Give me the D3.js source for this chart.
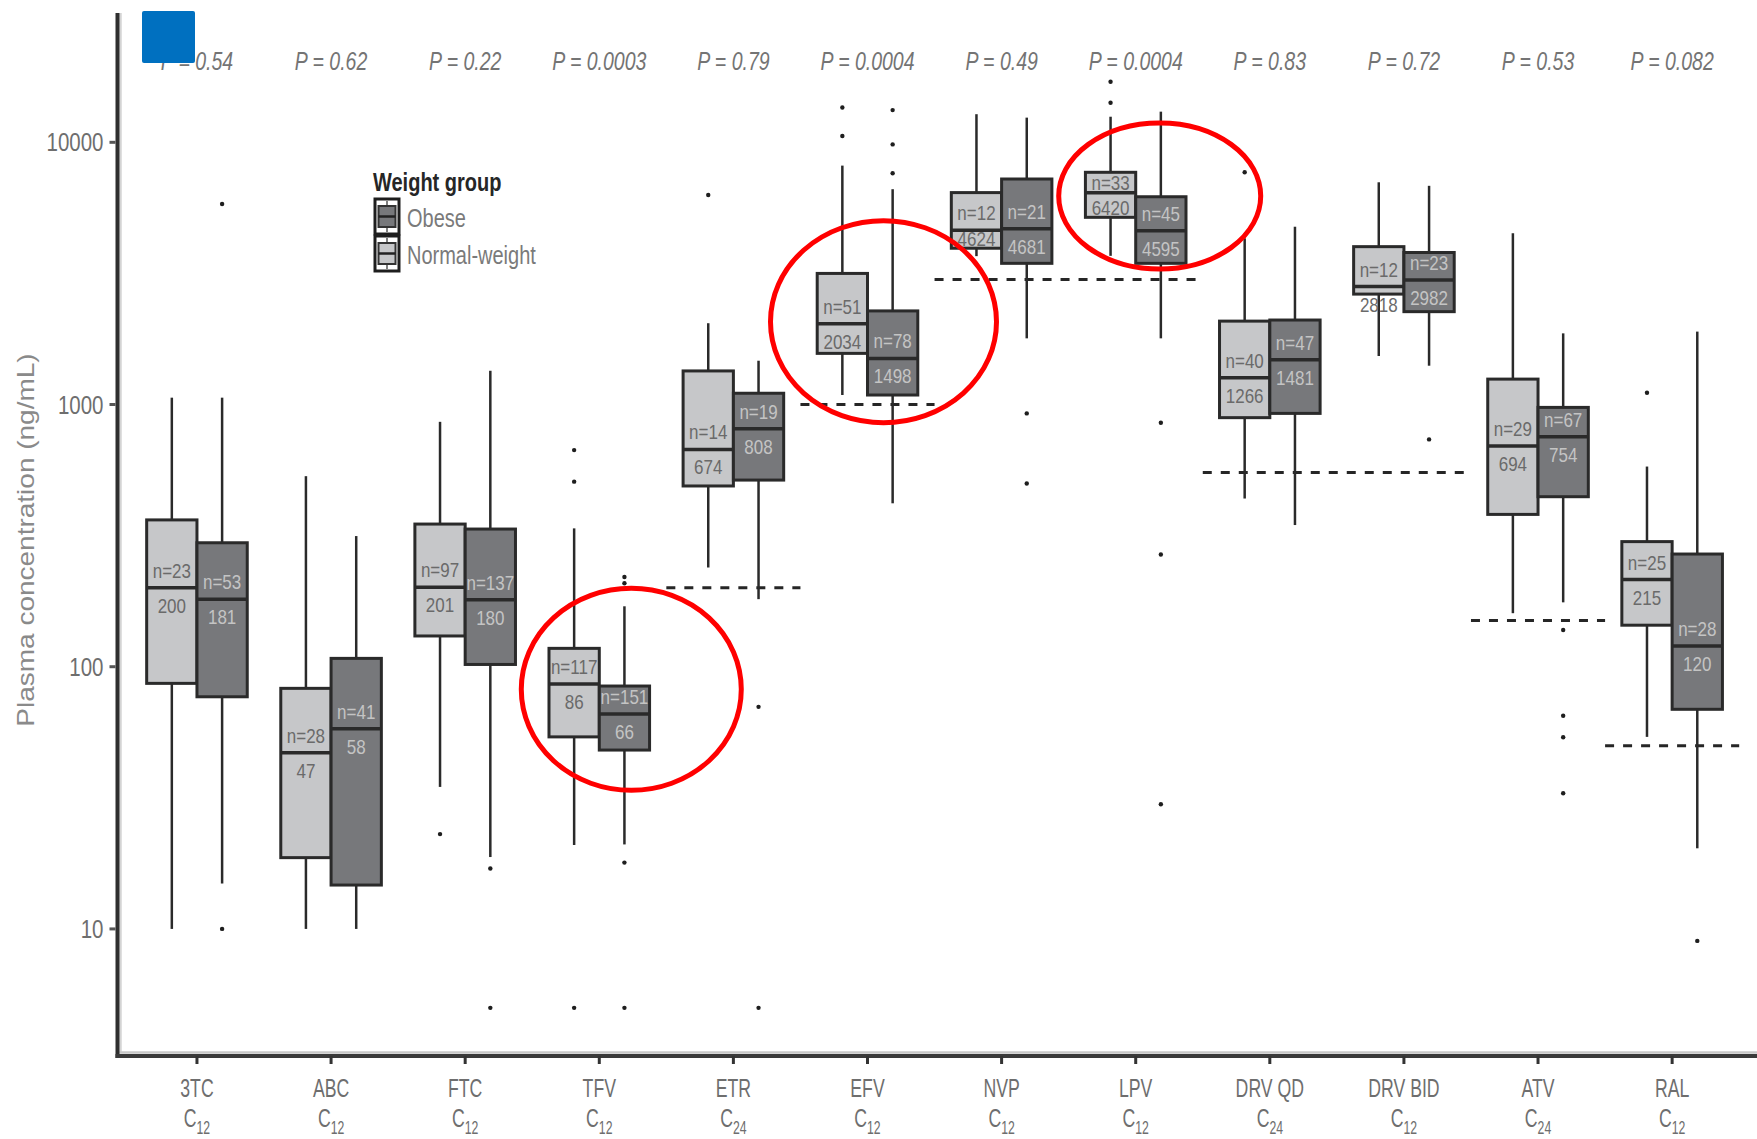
<!DOCTYPE html>
<html>
<head>
<meta charset="utf-8">
<script src="https://cdn.jsdelivr.net/npm/d3@7"></script>
<style>
  html, body { margin: 0; padding: 0; background: #ffffff; }
  svg { display: block; }
  text { font-family: "Liberation Sans", Arial, "DejaVu Sans", sans-serif; }
</style>
</head>
<body>
<svg id="chart" width="1757" height="1139"></svg>
<script>
// Drugs and the sampling time of each concentration (subscript under the name)
const drugs = ["3TC", "ABC", "FTC", "TFV", "ETR", "EFV", "NVP", "LPV", "DRV QD", "DRV BID", "ATV", "RAL"];
const samplingHour = ["12", "12", "12", "12", "24", "12", "12", "12", "24", "12", "24", "12"];
const pValues = ["0.54", "0.62", "0.22", "0.0003", "0.79", "0.0004", "0.49", "0.0004", "0.83", "0.72", "0.53", "0.082"];

// Group sizes
const normalN = [23, 28, 97, 117, 14, 51, 12, 33, 40, 12, 29, 25];
const obeseN  = [53, 41, 137, 151, 19, 78, 21, 45, 47, 23, 67, 28];

// Box statistics in ng/mL: [lower whisker, Q1, median, Q3, upper whisker]
const normalStats = [
  [10, 86.4, 200, 363, 1062],
  [10, 18.7, 47, 82.7, 533],
  [34.8, 131, 201, 350, 859],
  [20.9, 54, 86, 117.5, 337],
  [239, 489, 674, 1343, 2042],
  [1087, 1567, 2034, 3162, 8150],
  [3680, 3945, 4624, 6430, 12800],
  [3690, 5175, 6420, 7685, 12520],
  [438, 891, 1266, 2080, 4305],
  [1531, 2637, 2818, 4000, 7040],
  [160, 381, 694, 1250, 4500],
  [54, 144, 215, 300, 580]
];
const obeseStats = [
  [14.9, 76.8, 181, 297, 1062],
  [10, 14.7, 58, 107.6, 315],
  [18.8, 102, 180, 335, 1345],
  [21, 48.1, 66, 84.4, 170],
  [181, 515, 808, 1104, 1469],
  [420, 1087, 1498, 2275, 6625],
  [1788, 3455, 4681, 7245, 12420],
  [1788, 3455, 4595, 6200, 13090],
  [347, 925, 1481, 2100, 4765],
  [1406, 2260, 2982, 3800, 6825],
  [176, 445, 754, 975, 1868],
  [20.3, 68.8, 120, 269, 1897]
];

// Individual outlying concentrations
const normalOutliers = [
  [], [], [23], [670, 508, 5], [6295], [13580, 10570], [],
  [17020, 14160], [7685], [], [], [1109]
];
const obeseOutliers = [
  [10, 5820], [], [17, 5], [220, 208, 17.9, 5], [70.3, 5], [13270, 9820, 7620],
  [925, 500], [852, 268, 29.9], [], [736], [138, 65, 53.8, 32.9], [9]
];

// Target concentrations (dashed lines) and the drugs they span
const targetValue = [200, 1000, 3000, 550, 150, 50];
const targetFrom  = ["ETR", "EFV", "NVP", "DRV QD", "ATV", "RAL"];
const targetTo    = ["ETR", "EFV", "LPV", "DRV BID", "ATV", "RAL"];

// Highlighted comparisons (red rings)
const highlightDrug  = ["TFV", "EFV", "LPV"];
const highlightLevel = [82, 2070, 6240];

const yTicks = [10, 100, 1000, 10000];

const svg = d3.select("#chart");
const W = 1757, H = 1139;
const plotLeft = 116.5, plotRight = 1752.6, plotTop = 13, plotBottom = 1056;

const x = d3.scalePoint().domain(drugs).range([plotLeft, plotRight]).padding(0.6);
const y = d3.scaleLog().domain([3.276, 31130]).range([plotBottom, plotTop]);
const step = x.step();
const boxW = step * 0.375;

const TEXT = "#6e6e6e";
const LIGHT = "#c6c7c9", DARK = "#77787b", EDGE = "#2a2a2a";

// Horizontally condensed text helper
function label(g, px, py, str, size, sx, anchor, color, extra) {
  const t = g.append("text")
    .attr("transform", `translate(${px},${py}) scale(${sx},1)`)
    .attr("text-anchor", anchor)
    .attr("font-size", size)
    .attr("fill", color)
    .text(str);
  if (extra) extra(t);
  return t;
}

const plot = svg.append("g");

// Target dashed lines
targetValue.forEach((v, i) => {
  plot.append("line")
    .attr("x1", x(targetFrom[i]) - step / 2)
    .attr("x2", x(targetTo[i]) + step / 2)
    .attr("y1", y(v)).attr("y2", y(v))
    .attr("stroke", "#262626").attr("stroke-width", 3)
    .attr("stroke-dasharray", "9,9");
});

// Boxes
const groups = [
  { stats: normalStats, n: normalN, out: normalOutliers, fill: LIGHT, offset: -boxW / 2, txt: "#6a6a6a" },
  { stats: obeseStats,  n: obeseN,  out: obeseOutliers,  fill: DARK,  offset:  boxW / 2, txt: "#c4c4c4" }
];

groups.forEach(gr => {
  drugs.forEach((d, i) => {
    const [lw, q1, med, q3, uw] = gr.stats[i];
    const cx = x(d) + gr.offset;
    const g = plot.append("g");
    // whiskers
    g.append("line").attr("x1", cx).attr("x2", cx).attr("y1", y(uw)).attr("y2", y(q3))
      .attr("stroke", EDGE).attr("stroke-width", 2.5);
    g.append("line").attr("x1", cx).attr("x2", cx).attr("y1", y(q1)).attr("y2", y(lw))
      .attr("stroke", EDGE).attr("stroke-width", 2.5);
    // box
    g.append("rect")
      .attr("x", cx - boxW / 2).attr("y", y(q3))
      .attr("width", boxW).attr("height", y(q1) - y(q3))
      .attr("fill", gr.fill).attr("stroke", EDGE).attr("stroke-width", 3);
    // median
    g.append("line").attr("x1", cx - boxW / 2).attr("x2", cx + boxW / 2)
      .attr("y1", y(med)).attr("y2", y(med))
      .attr("stroke", EDGE).attr("stroke-width", 3.5);
    // outliers
    gr.out[i].forEach(v => {
      g.append("circle").attr("cx", cx).attr("cy", y(v)).attr("r", 2.2).attr("fill", "#1e1e1e");
    });
  });
});

// Box labels: group size above the median, median value below;
// kept inside the box when the half-box is tall enough to hold them
groups.forEach(gr => {
  drugs.forEach((d, i) => {
    const [, q1, med, q3] = gr.stats[i];
    const cx = x(d) + gr.offset;
    const ym = y(med), yq3 = y(q3), yq1 = y(q1);
    let nCenter = ym - 17, vCenter = ym + 18;
    if (ym - yq3 >= 15) nCenter = Math.max(nCenter, yq3 + 11);
    if (yq1 - ym >= 15) vCenter = Math.min(vCenter, yq1 - 9);
    label(plot, cx, nCenter + 7, "n=" + gr.n[i], 20, 0.85, "middle", gr.txt);
    label(plot, cx, vCenter + 7, String(med), 20, 0.85, "middle", gr.txt);
  });
});

// Axes
const axes = svg.append("g");
axes.append("line").attr("x1", plotLeft + 4).attr("x2", plotLeft + 4).attr("y1", plotTop).attr("y2", plotBottom - 3)
  .attr("stroke", "#d4d4d4").attr("stroke-width", 2.5);
axes.append("line").attr("x1", plotLeft + 1).attr("x2", W).attr("y1", plotBottom - 3.5).attr("y2", plotBottom - 3.5)
  .attr("stroke", "#c8c8c8").attr("stroke-width", 2.5);
axes.append("line").attr("x1", plotLeft + 1).attr("x2", plotLeft + 1).attr("y1", plotTop).attr("y2", plotBottom + 2)
  .attr("stroke", "#2f2f2f").attr("stroke-width", 4);
axes.append("line").attr("x1", plotLeft - 1).attr("x2", W).attr("y1", plotBottom).attr("y2", plotBottom)
  .attr("stroke", "#3a3a3a").attr("stroke-width", 4);

// y ticks and labels
yTicks.forEach(v => {
  axes.append("line").attr("x1", plotLeft - 7).attr("x2", plotLeft - 1).attr("y1", y(v)).attr("y2", y(v))
    .attr("stroke", "#555").attr("stroke-width", 3);
  label(axes, plotLeft - 13, y(v) + 9, d3.format("d")(v), 25, 0.82, "end", TEXT);
});

// x ticks and labels
drugs.forEach((d, i) => {
  const px = x(d);
  axes.append("line").attr("x1", px).attr("x2", px).attr("y1", plotBottom).attr("y2", plotBottom + 8)
    .attr("stroke", "#333").attr("stroke-width", 3);
  label(axes, px, plotBottom + 41, d, 26, 0.68, "middle", TEXT);
  label(axes, px, plotBottom + 71, "", 26, 0.68, "middle", TEXT, t => {
    t.append("tspan").text("C");
    t.append("tspan").attr("font-size", 18).attr("dy", 7).text(samplingHour[i]);
  });
});

// y axis title
svg.append("text")
  .attr("transform", "translate(34,540) rotate(-90) scale(1,0.85)")
  .attr("text-anchor", "middle")
  .attr("font-size", 28)
  .attr("fill", "#8a8a8a")
  .text("Plasma concentration (ng/mL)");

// P values above each drug
drugs.forEach((d, i) => {
  label(svg, x(d), 70, "P = " + pValues[i], 26, 0.75, "middle", "#747474",
    t => t.attr("font-style", "italic"));
});

// Legend
const lg = svg.append("g");
label(lg, 373, 191, "Weight group", 25, 0.8, "start", "#262626", t => t.attr("font-weight", "bold"));
const keys = [
  { name: "Obese", fill: DARK, y0: 199 },
  { name: "Normal-weight", fill: LIGHT, y0: 236 }
];
keys.forEach(k => {
  lg.append("rect").attr("x", 375).attr("y", k.y0).attr("width", 24).attr("height", 35)
    .attr("fill", "#ffffff").attr("stroke", "#1e1e1e").attr("stroke-width", 3);
  lg.append("line").attr("x1", 387).attr("x2", 387).attr("y1", k.y0 + 2).attr("y2", k.y0 + 33)
    .attr("stroke", "#555").attr("stroke-width", 1.5);
  lg.append("rect").attr("x", 378.5).attr("y", k.y0 + 7).attr("width", 17).attr("height", 21)
    .attr("fill", k.fill).attr("stroke", "#333").attr("stroke-width", 2);
  lg.append("line").attr("x1", 378.5).attr("x2", 395.5).attr("y1", k.y0 + 17.5).attr("y2", k.y0 + 17.5)
    .attr("stroke", "#222").attr("stroke-width", 2.5);
  label(lg, 407, k.y0 + 28, k.name, 25, 0.8, "start", "#7a7a7a");
});

// Highlight rings
const ringDx = [32, 16, 24];
const ringR = [[110, 101], [113, 101], [101, 73]];
highlightDrug.forEach((d, i) => {
  svg.append("ellipse")
    .attr("cx", x(d) + ringDx[i]).attr("cy", y(highlightLevel[i]))
    .attr("rx", ringR[i][0]).attr("ry", ringR[i][1])
    .attr("fill", "none").attr("stroke", "#ff0000").attr("stroke-width", 5);
});

// Blue marker square
svg.append("rect").attr("x", 142).attr("y", 11).attr("width", 53).attr("height", 52)
  .attr("rx", 2).attr("fill", "#0070c0");
</script>
</body>
</html>
